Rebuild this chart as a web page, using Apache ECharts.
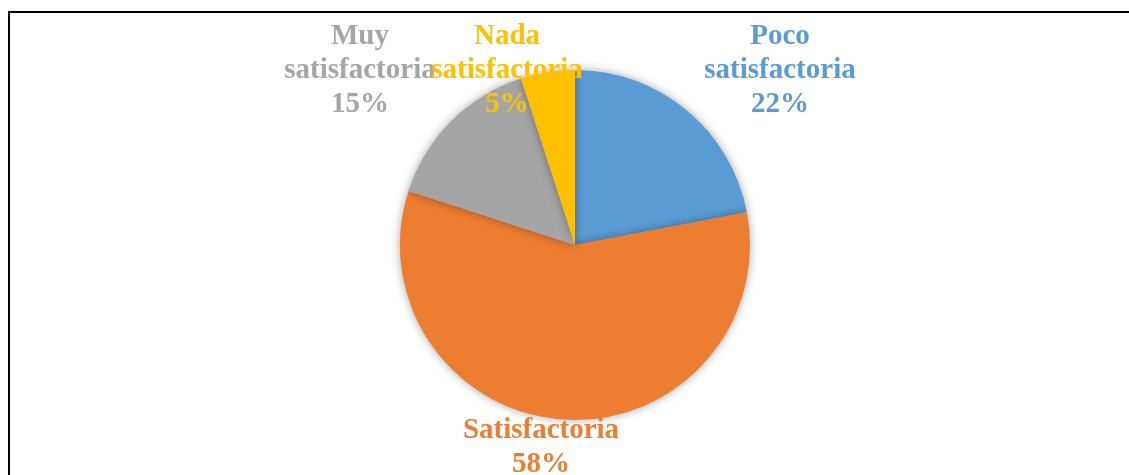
<!DOCTYPE html>
<html>
<head>
<meta charset="utf-8">
<script src="https://cdn.jsdelivr.net/npm/echarts@6/dist/echarts.min.js"></script>
<style>
html,body{margin:0;padding:0;background:#fff;}
#chart{width:1129px;height:475px;}
</style>
</head>
<body>
<div id="chart"></div>
<script>
// Data
const categories = ['Poco satisfactoria', 'Satisfactoria', 'Muy satisfactoria', 'Nada satisfactoria'];
const labelTexts = ['Poco\nsatisfactoria', 'Satisfactoria', 'Muy\nsatisfactoria', 'Nada\nsatisfactoria'];
const values = [22, 58, 15, 5];
const colors = ['#5B9BD5', '#ED7D31', '#A5A5A5', '#FFC000'];

// Label anchor points (layout, not data)
const labelAnchors = [[780, 71], [541, 448], [360, 71], [507, 71]];

const chart = echarts.init(document.getElementById('chart'));
chart.setOption({
  backgroundColor: '#fff',
  animation: false,
  graphic: [{
    type: 'polyline',
    shape: { points: [[9, 475], [9, 12], [1129, 12]] },
    style: { stroke: '#000', lineWidth: 2, fill: null }
  }],
  series: [{
    type: 'pie',
    center: [575, 245],
    radius: 175,
    startAngle: 90,
    clockwise: true,
    data: categories.map((c, i) => ({
      name: c,
      value: values[i],
      itemStyle: { color: colors[i] },
      label: { color: colors[i] }
    })),
    itemStyle: {
      shadowBlur: 10,
      shadowColor: 'rgba(0,0,0,0.35)'
    },
    label: {
      show: true,
      position: 'outside',
      formatter: p => labelTexts[p.dataIndex] + '\n' + Math.round(p.percent) + '%',
      fontFamily: '"Liberation Serif", "Times New Roman", serif',
      fontWeight: 'bold',
      fontSize: 29,
      lineHeight: 34,
      align: 'center'
    },
    labelLine: { show: false },
    labelLayout: function (params) {
      const a = labelAnchors[params.dataIndex];
      return { x: a[0], y: a[1], align: 'center', verticalAlign: 'middle', hideOverlap: false };
    }
  }]
});
</script>
</body>
</html>
